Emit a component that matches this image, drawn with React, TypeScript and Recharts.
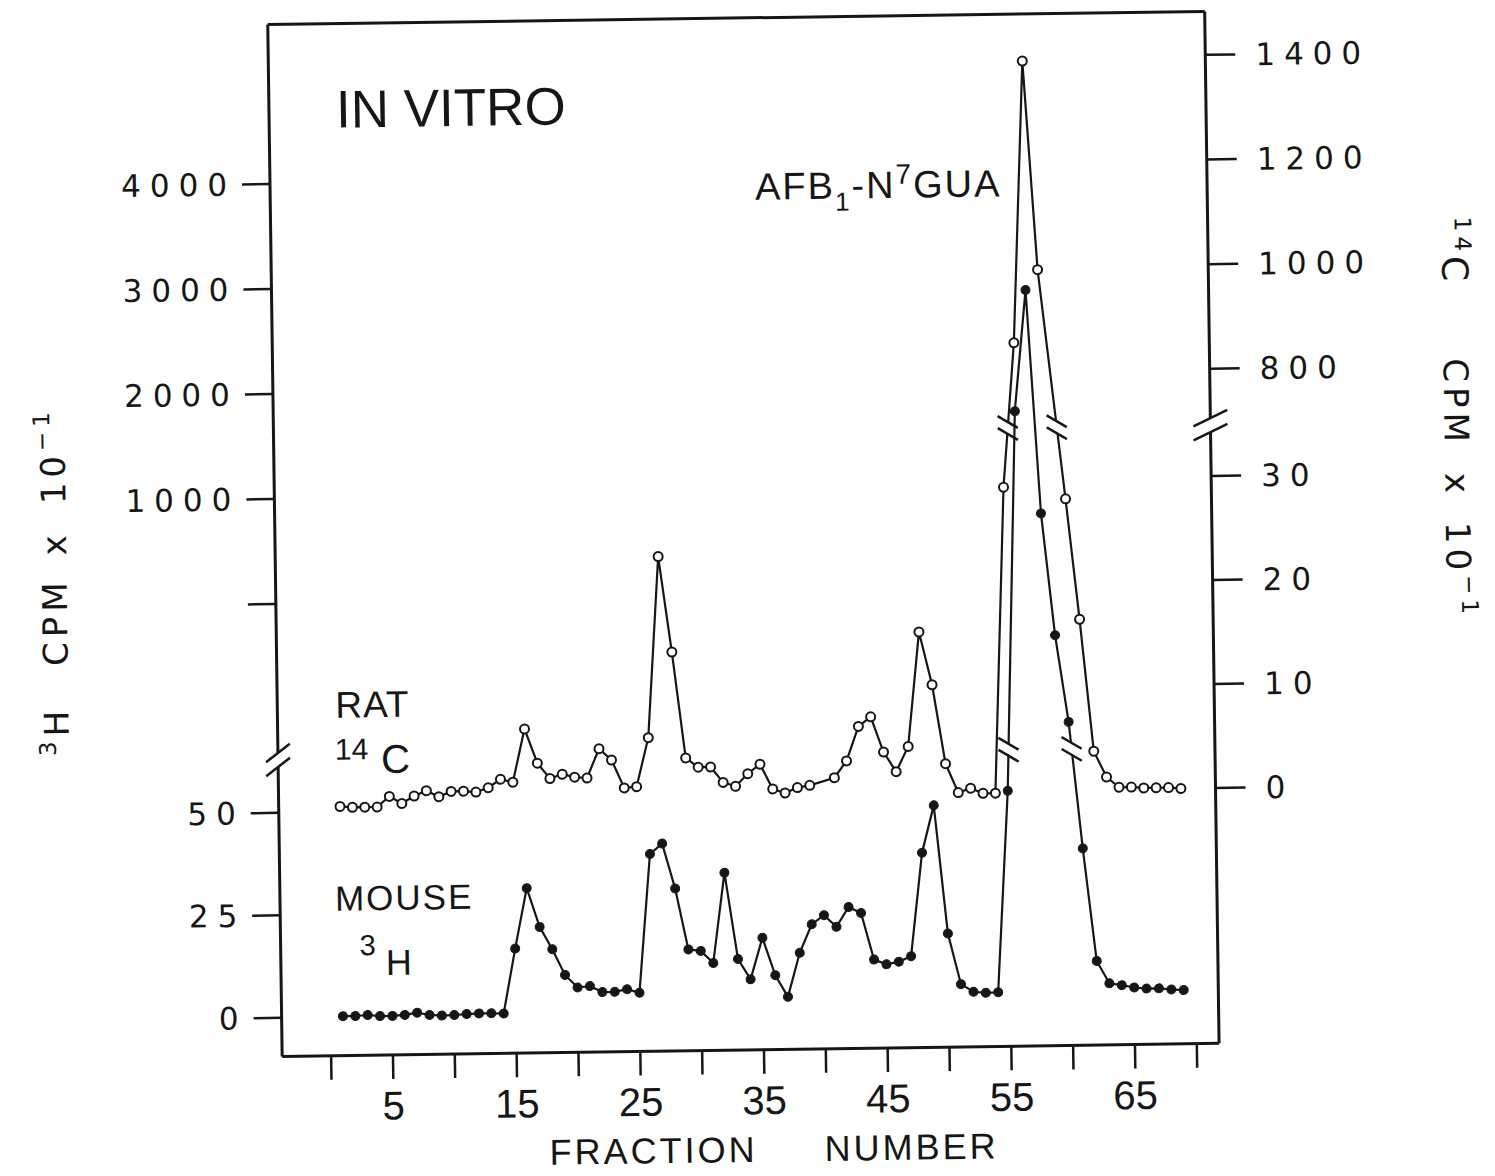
import { ComposedChart, Line, XAxis, YAxis, ReferenceLine, ReferenceDot } from "recharts";

// fraction number of each collected fraction
const fractions = [
  1, 2, 3, 4, 5, 6, 7, 8, 9, 10, 11, 12, 13, 14, 15, 16, 17, 18, 19, 20, 21, 22, 23,
  24, 25, 26, 27, 28, 29, 30, 31, 32, 33, 34, 35, 36, 37, 38, 39, 40, 41, 42, 43, 44,
  45, 46, 47, 48, 49, 50, 51, 52, 53, 54, 55, 56, 57, 58, 59, 60, 61, 62, 63, 64, 65,
  66, 67, 68, 69,
];

// mouse, 3H cpm x 10^-1
const mouseCpm = [
  0.2, 0.2, 0.4, 0.1, 0.1, 0.3, 0.8, 0.2, 0.0, 0.1, 0.3, 0.4, 0.4, 0.3, 16.1, 30.8,
  21.3, 15.8, 9.5, 6.4, 6.7, 5.2, 5.2, 5.8, 4.9, 38.7, 41.2, 30.2, 15.3, 14.9, 11.9,
  33.9, 12.8, 7.8, 17.9, 8.7, 3.4, 14.1, 21.0, 23.2, 20.3, 25.1, 23.6, 12.2, 11.0,
  11.6, 12.9, 38.1, 49.6, 18.3, 5.9, 4.0, 3.7, 3.8, 52.9, 1738, 2890, 761, 90.7,
  69.5, 38.6, 11.1, 5.6, 5.1, 4.5, 4.2, 4.2, 3.9, 3.7,
];

// rat, 14C cpm x 10^-1 (fractions 40 and 59 not plotted)
const ratCpm: (number | null)[] = [
  -0.6, -0.7, -0.7, -0.7, 0.3, -0.4, 0.3, 0.8, 0.2, 0.7, 0.7, 0.6, 1.0, 1.8, 1.5, 6.6,
  3.3, 1.8, 2.2, 1.9, 1.8, 4.6, 3.5, 0.8, 0.9, 5.6, 23.0, 13.8, 3.6, 2.7, 2.7, 1.2,
  0.8, 2.0, 2.9, 0.5, 0.1, 0.6, 0.8, null, 1.5, 3.1, 6.4, 7.3, 3.9, 2.0, 4.4, 15.4,
  10.3, 2.7, -0.1, 0.3, -0.2, -0.2, 29.2, 855, 1393, 994, null, 28.0, 16.4, 3.7, 1.2,
  0.2, 0.2, 0.1, 0.1, 0.1, 0.0,
];

const xTicks = [0, 5, 10, 15, 20, 25, 30, 35, 40, 45, 50, 55, 60, 65, 70];
const xLabels = ["", "5", "", "15", "", "25", "", "35", "", "45", "", "55", "", "65", ""];

const tritiumLowTicks = [0, 25, 50];
const tritiumHighTicks = [0, 1000, 2000, 3000, 4000];
const carbonLowTicks = [0, 10, 20, 30];
const carbonHighTicks = [800, 1000, 1200, 1400];

// both y axes share one plotting range; each scale is split in two at its break
const Y_TOP = 1032;
const X_MIN = -3.96;
const X_MAX = 71.8;

const H_LOW_ZERO = 38.6;
const H_LOW_UNIT = 4.1;
const H_HIGH_ZERO = 452.5;
const H_HIGH_UNIT = 0.105;
const H_SPLIT = 100;
const H_BREAK = 296.5;

const C_LOW_ZERO = 255.4;
const C_LOW_UNIT = 10.4;
const C_HIGH_ZERO = 256;
const C_HIGH_UNIT = 0.5233;
const C_SPLIT = 40;
const C_BREAK = 618.3;

const hLow = (v: number) => H_LOW_ZERO + v * H_LOW_UNIT;
const hHigh = (v: number) => H_HIGH_ZERO + v * H_HIGH_UNIT;
const tritiumToPlot = (v: number) => (v <= H_SPLIT ? hLow(v) : hHigh(v));

const cLow = (v: number) => C_LOW_ZERO + v * C_LOW_UNIT;
const cHigh = (v: number) => C_HIGH_ZERO + v * C_HIGH_UNIT;
const carbonToPlot = (v: number) => (v <= C_SPLIT ? cLow(v) : cHigh(v));

const hTicks = [...tritiumLowTicks.map(hLow), ...tritiumHighTicks.map(hHigh)];
const hLabels = [
  ...tritiumLowTicks.map(String),
  ...tritiumHighTicks.map((v) => (v === 0 ? "" : String(v))),
];
const cTicks = [...carbonLowTicks.map(cLow), ...carbonHighTicks.map(cHigh)];
const cLabels = [...carbonLowTicks.map(String), ...carbonHighTicks.map(String)];

const labelFor = (ticks: number[], labels: string[]) => (value: number) => {
  const i = ticks.findIndex((t) => Math.abs(t - value) < 0.01);
  return i < 0 ? "" : labels[i];
};

const SANS = "'Liberation Sans', Arial, sans-serif";
const ROUND = "'DejaVu Sans', sans-serif";
const INK = "#161616";
const AXIS = { stroke: INK, strokeWidth: 3 };
const TICK = { stroke: INK, strokeWidth: 2.5 };

type Row = { fraction: number; mouse: number; rat: number | null };

// where a plotted curve passes through the level of an axis break
function crossings(rows: Row[], key: "mouse" | "rat", level: number) {
  const out: { x: number; y: number }[] = [];
  let prev: { f: number; d: number } | null = null;
  for (const r of rows) {
    const d = r[key];
    if (d == null) continue;
    if (prev && (prev.d - level) * (d - level) < 0) {
      const t = (level - prev.d) / (d - prev.d);
      out.push({ x: prev.f + t * (r.fraction - prev.f), y: level });
    }
    prev = { f: r.fraction, d };
  }
  return out;
}

// "//" across an axis line
const axisBreak = (hw: number, hh: number) => (props: any) => {
  const { cx, cy } = props;
  const k = hh / hw;
  return (
    <g>
      <polygon
        points={`${cx - 7},${cy - 7 + 7 * k} ${cx + 7},${cy - 7 - 7 * k} ${cx + 7},${cy + 7 - 7 * k} ${cx - 7},${cy + 7 + 7 * k}`}
        fill="#fff"
      />
      <line x1={cx - hw} y1={cy - 7 + hh} x2={cx + hw} y2={cy - 7 - hh} stroke={INK} strokeWidth={2.5} />
      <line x1={cx - hw} y1={cy + 7 + hh} x2={cx + hw} y2={cy + 7 - hh} stroke={INK} strokeWidth={2.5} />
    </g>
  );
};

// "\\" cut across a curve
function CurveBreak(props: any) {
  const { cx, cy } = props;
  return (
    <g>
      <polygon
        points={`${cx - 5},${cy - 6 - 3} ${cx + 5},${cy - 6 + 3} ${cx + 5},${cy + 6 + 3} ${cx - 5},${cy + 6 - 3}`}
        fill="#fff"
      />
      <line x1={cx - 10} y1={cy - 12} x2={cx + 10} y2={cy} stroke={INK} strokeWidth={2.5} />
      <line x1={cx - 10} y1={cy} x2={cx + 10} y2={cy + 12} stroke={INK} strokeWidth={2.5} />
    </g>
  );
}

export default function App() {
  const rows: Row[] = fractions.map((f, i) => ({
    fraction: f,
    mouse: tritiumToPlot(mouseCpm[i]),
    rat: ratCpm[i] == null ? null : carbonToPlot(ratCpm[i] as number),
  }));

  const cuts = [...crossings(rows, "rat", C_BREAK), ...crossings(rows, "mouse", H_BREAK)];

  return (
    <div
      style={{
        position: "absolute",
        left: 0,
        top: 0,
        width: 1495,
        height: 1176,
        background: "#fff",
        transform: "rotate(-0.8deg)",
        transformOrigin: "740px 540px",
      }}
    >
      <ComposedChart
        width={1495}
        height={1176}
        data={rows}
        margin={{ top: 18, right: 173, bottom: 46, left: 175 }}
      >
        <XAxis
          type="number"
          dataKey="fraction"
          domain={[X_MIN, X_MAX]}
          allowDataOverflow
          ticks={xTicks}
          interval={0}
          tickFormatter={(v: number) => xLabels[xTicks.indexOf(v)] ?? ""}
          height={80}
          tickSize={24}
          tickMargin={12}
          axisLine={AXIS}
          tickLine={TICK}
          tick={{ fontSize: 40, fontFamily: SANS, fill: INK }}
        />
        <YAxis
          yAxisId="h"
          orientation="left"
          width={100}
          domain={[0, Y_TOP]}
          allowDataOverflow
          ticks={hTicks}
          interval={0}
          tickFormatter={labelFor(hTicks, hLabels)}
          tickSize={28}
          tickMargin={6}
          axisLine={AXIS}
          tickLine={TICK}
          tick={{ fontSize: 31, fontFamily: ROUND, fill: INK, letterSpacing: 9 }}
        />
        <YAxis
          yAxisId="c"
          orientation="right"
          width={110}
          domain={[0, Y_TOP]}
          allowDataOverflow
          ticks={cTicks}
          interval={0}
          tickFormatter={labelFor(cTicks, cLabels)}
          tickSize={30}
          tickMargin={20}
          axisLine={AXIS}
          tickLine={TICK}
          tick={{ fontSize: 31, fontFamily: ROUND, fill: INK, letterSpacing: 9 }}
        />
        <ReferenceLine yAxisId="h" y={Y_TOP} stroke={INK} strokeWidth={3} />
        <Line
          yAxisId="h"
          dataKey="mouse"
          stroke={INK}
          strokeWidth={2.2}
          dot={{ r: 4.5, fill: INK, stroke: INK, strokeWidth: 1 }}
          isAnimationActive={false}
        />
        <Line
          yAxisId="c"
          dataKey="rat"
          connectNulls
          stroke={INK}
          strokeWidth={2.2}
          dot={{ r: 4.5, fill: "#fff", stroke: INK, strokeWidth: 2 }}
          isAnimationActive={false}
        />
        {cuts.map((c, i) => (
          <ReferenceDot key={`cut${i}`} yAxisId="h" x={c.x} y={c.y} ifOverflow="visible" shape={CurveBreak} />
        ))}
        <ReferenceDot yAxisId="h" x={X_MIN} y={H_BREAK} ifOverflow="visible" shape={axisBreak(12, 9)} />
        <ReferenceDot yAxisId="h" x={X_MAX} y={C_BREAK} ifOverflow="visible" shape={axisBreak(17, 8)} />
      </ComposedChart>

      <svg
        width={1495}
        height={1176}
        style={{ position: "absolute", left: 0, top: 0, pointerEvents: "none" }}
        fill={INK}
        fontFamily={SANS}
      >
        <text x={342} y={122} fontSize={53}>IN VITRO</text>
        <text x={760} y={200} fontSize={38} letterSpacing={2}>
          AFB<tspan fontSize={26} dy={12}>1</tspan>
          <tspan dy={-12}>-N</tspan>
          <tspan fontSize={28} dy={-14}>7</tspan>
          <tspan dy={14}>GUA</tspan>
        </text>

        <text x={333} y={712} fontSize={37} letterSpacing={1}>RAT</text>
        <text x={332} y={754} fontSize={30}>14</text>
        <text x={378} y={768} fontSize={40}>C</text>

        <text x={330} y={905} fontSize={35} letterSpacing={2}>MOUSE</text>
        <text x={354} y={950} fontSize={29}>3</text>
        <text x={380} y={970} fontSize={36}>H</text>

        <text x={541} y={1162} fontSize={36} letterSpacing={3}>FRACTION</text>
        <text x={816} y={1162} fontSize={36} letterSpacing={3}>NUMBER</text>

        <g transform="translate(54 572) rotate(-90)" fontFamily={ROUND}>
          <text x={0} y={12} textAnchor="middle" fontSize={34} letterSpacing={5}>
            <tspan fontSize={23} dy={-13}>3</tspan>
            <tspan dy={13}>H</tspan>
            <tspan dx={40}>CPM</tspan>
            <tspan dx={22}>x</tspan>
            <tspan dx={26}>10</tspan>
            <tspan fontSize={23} dy={-15}>−1</tspan>
          </text>
        </g>
        <g transform="translate(1458 428) rotate(90)" fontFamily={ROUND}>
          <text x={0} y={12} textAnchor="middle" fontSize={34} letterSpacing={5}>
            <tspan fontSize={23} dy={-13}>14</tspan>
            <tspan dy={13} fontSize={36}>C</tspan>
            <tspan dx={72}>CPM</tspan>
            <tspan dx={26}>x</tspan>
            <tspan dx={24}>10</tspan>
            <tspan fontSize={23} dy={-15}>−1</tspan>
          </text>
        </g>
      </svg>
    </div>
  );
}
